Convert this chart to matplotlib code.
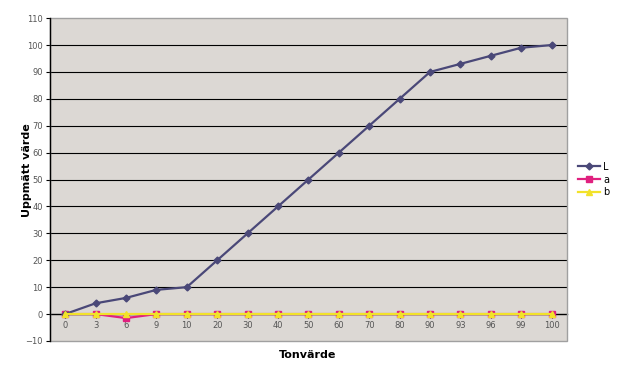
import matplotlib.pyplot as plt
from matplotlib.patches import Rectangle

categories = ["0", "3", "6", "9", "10", "20", "30", "40", "50", "60",
              "70", "80", "90", "93", "96", "99", "100"]
L_vals = [0, 4, 6, 9, 10, 20, 30, 40, 50, 60, 70, 80, 90, 93, 96, 99, 100]
a_vals = [0, 0, -1.5, 0, 0, 0, 0, 0, 0, 0, 0, 0, 0, 0, 0, 0, 0]
b_vals = [0, 0, 0, 0, 0, 0, 0, 0, 0, 0, 0, 0, 0, 0, 0, 0, 0]

fig = plt.figure(figsize=(6.28, 3.78), dpi=100)
ax = fig.add_axes([0.0796, 0.098, 0.823, 0.854])
ax.set_facecolor("#dcd8d4")

x = list(range(len(categories)))

for yv in range(10, 101, 10):
    ax.axhline(yv, color="black", lw=0.8, zorder=1)

ax.plot(x, L_vals, color="#4a4878", lw=1.6, marker="D", ms=3.5,
        label="L", zorder=4)
ax.plot(x, a_vals, color="#e0207f", lw=1.6, marker="s", ms=4.5,
        label="a", zorder=3)
ax.plot(x, b_vals, color="#f2e22a", lw=1.6, marker="^", ms=4.5,
        label="b", zorder=5)

ax.set_xlim(-0.5, len(categories) - 0.5)
ax.set_ylim(-10, 110)
ax.set_yticks(range(-10, 111, 10))
ax.set_xticks(x)
ax.set_xticklabels(categories)

for s in ["top", "right", "left"]:
    ax.spines[s].set_visible(False)
ax.spines["bottom"].set_position(("data", 0))
ax.spines["bottom"].set_color("black")
ax.spines["bottom"].set_linewidth(1.0)
ax.add_patch(Rectangle((0, 0), 1, 1, transform=ax.transAxes, fill=False,
                       edgecolor="#a0a0a0", lw=1.0, zorder=6, clip_on=False))
ax.plot([0, 0], [0, 1], transform=ax.transAxes, color="black", lw=1.0,
        zorder=7, clip_on=False)

ax.tick_params(axis="x", length=3, pad=2, labelsize=6, labelcolor="#555555")
ax.tick_params(axis="y", length=3, pad=2, labelsize=6, labelcolor="#555555")

fig.text(0.043, 0.55, "Uppmätt värde", fontsize=8, fontweight="bold",
         ha="center", va="center", rotation=90)
fig.text(0.49, 0.06, "Tonvärde", fontsize=8, fontweight="bold",
         ha="center", va="center")

ax.legend(loc="center left", bbox_to_anchor=(1.005, 0.5), frameon=False,
          fontsize=7, handlelength=2.2, handletextpad=0.4, labelspacing=0.3)

fig.savefig("out.png", dpi=100)
